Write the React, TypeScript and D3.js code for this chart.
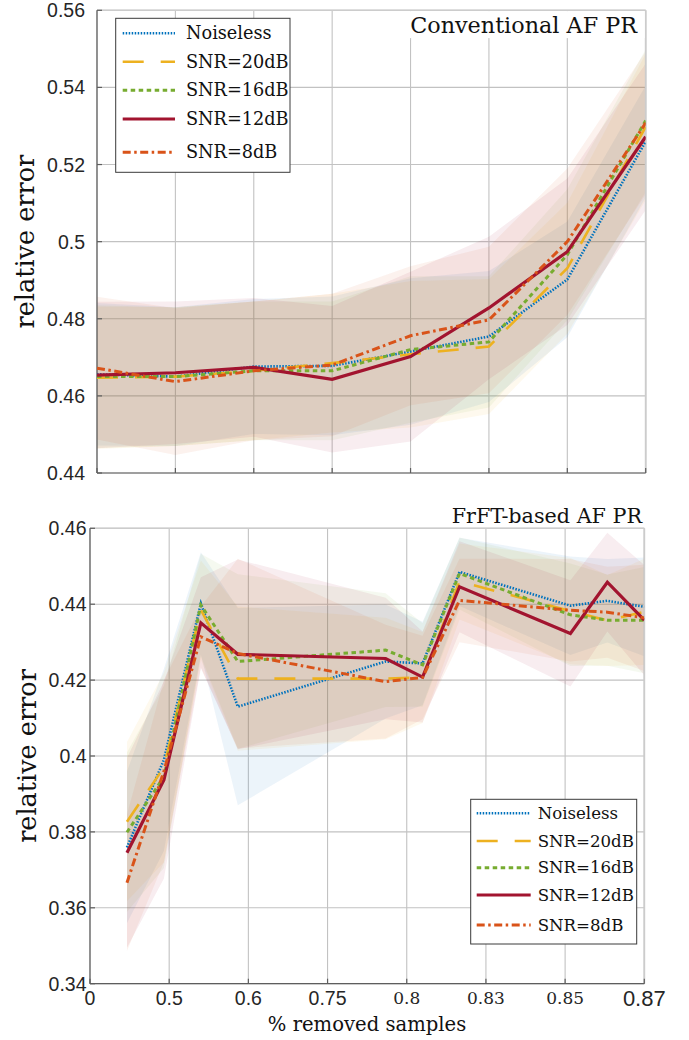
import React from "react";
import * as d3 from "d3";

// ---------- shared ----------
const seriesNames = ["Noiseless", "SNR=20dB", "SNR=16dB", "SNR=12dB", "SNR=8dB"];
const seriesColors = ["#0072BD", "#EDB120", "#77AC30", "#A2142F", "#D95319"];

// ---------- top panel: Conventional AF PR ----------
const topX = [0, 1, 2, 3, 4, 5, 6, 7];
const topNoiseless = [0.4656, 0.465, 0.4676, 0.4678, 0.4715, 0.4754, 0.4902, 0.526];
const top20dB = [0.4647, 0.465, 0.4665, 0.4685, 0.4708, 0.4728, 0.4931, 0.5298];
const top16dB = [0.465, 0.465, 0.4665, 0.4665, 0.472, 0.474, 0.4966, 0.5314];
const top12dB = [0.4654, 0.466, 0.4674, 0.4643, 0.4702, 0.4828, 0.4974, 0.5272];
const top8dB = [0.4672, 0.4637, 0.4665, 0.468, 0.4756, 0.4797, 0.5, 0.5308];
const topNoiselessSpread = [0.0185, 0.018, 0.0175, 0.018, 0.019, 0.017, 0.015, 0.0145];
const top20dBSpread = [0.0185, 0.018, 0.018, 0.018, 0.019, 0.0175, 0.017, 0.019];
const top16dBSpread = [0.0185, 0.018, 0.018, 0.018, 0.019, 0.017, 0.017, 0.0185];
const top12dBSpread = [0.019, 0.0185, 0.018, 0.019, 0.022, 0.0185, 0.019, 0.019];
const top8dBSpread = [0.0185, 0.019, 0.018, 0.0185, 0.018, 0.019, 0.019, 0.0185];
const topYTicks = [0.44, 0.46, 0.48, 0.5, 0.52, 0.54, 0.56];
const topXTicks = [0, 1, 2, 3, 4, 5, 6, 7];

// ---------- bottom panel: FrFT-based AF PR ----------
const bottomX = [1, 2, 3, 4, 8, 9, 10, 13, 14, 15];
const botNoiseless = [0.3759, 0.399, 0.4402, 0.413, 0.4249, 0.4244, 0.4485, 0.4396, 0.4409, 0.4393];
const bot20dB = [0.3827, 0.397, 0.4385, 0.4204, 0.4204, 0.4207, 0.446, 0.4382, 0.4357, 0.438];
const bot16dB = [0.3799, 0.3945, 0.4398, 0.4249, 0.4279, 0.424, 0.4481, 0.4372, 0.4358, 0.4358];
const bot12dB = [0.3745, 0.3937, 0.4351, 0.4268, 0.4257, 0.4208, 0.4446, 0.4323, 0.4458, 0.4358];
const bot8dB = [0.3666, 0.396, 0.4314, 0.427, 0.4196, 0.4207, 0.441, 0.4384, 0.4379, 0.4364];
const botNoiselessSpread = [0.02, 0.024, 0.0135, 0.026, 0.015, 0.011, 0.009, 0.013, 0.011, 0.013];
const bot20dBSpread = [0.021, 0.025, 0.013, 0.019, 0.016, 0.012, 0.01, 0.014, 0.012, 0.014];
const bot16dBSpread = [0.021, 0.024, 0.0135, 0.023, 0.015, 0.011, 0.0095, 0.0135, 0.012, 0.014];
const bot12dBSpread = [0.025, 0.026, 0.012, 0.025, 0.016, 0.012, 0.012, 0.014, 0.013, 0.0145];
const bot8dBSpread = [0.018, 0.024, 0.008, 0.025, 0.015, 0.011, 0.011, 0.0135, 0.012, 0.014];
const bottomYTicks = [0.34, 0.36, 0.38, 0.4, 0.42, 0.44, 0.46];
const bottomXTickLabels = ["0", "0.5", "0.6", "0.75", "0.8", "0.83", "0.85", "0.87"];

// ---------- styles ----------
const lineStyles = [
  { dash: "1.5 1.5", width: 2.6 },
  { dash: "21 17", width: 2.6 },
  { dash: "4.5 3.5", width: 3 },
  { dash: "none", width: 3.2 },
  { dash: "8 3.5 2.5 3.5", width: 3 },
];
const SANS = "'Liberation Sans', Arial, sans-serif";
const SERIF = "'DejaVu Serif', serif";
const serifTickLabels = new Set(["0.8", "0.83", "0.85"]);
const bigTickLabels = new Set(["0.87"]);

const fmt = (v: number) => String(Number(v.toFixed(2)));

type PanelProps = {
  id: string;
  L: number; R: number; T: number; B: number;
  xDomain: [number, number];
  yDomain: [number, number];
  xTickVals: number[];
  yTicks: number[];
  xs: number[];
  means: number[][];
  spreads: number[][];
  yLabelRight: number;
};

function Panel(p: PanelProps) {
  const x = d3.scaleLinear().domain(p.xDomain).range([p.L, p.R]);
  const y = d3.scaleLinear().domain(p.yDomain).range([p.B, p.T]);
  const line = d3.line<number>().x((_, i) => x(p.xs[i])).y((d) => y(d));
  const bandOf = (m: number[], s: number[]) =>
    d3
      .area<number>()
      .x((_, i) => x(p.xs[i]))
      .y0((d, i) => y(d - s[i]))
      .y1((d, i) => y(d + s[i]))(m) || "";
  const gridColor = "#c2c2c2";
  const axisColor = "#5e5e5e";
  return (
    <g>
      <defs>
        <clipPath id={p.id}>
          <rect x={p.L} y={p.T} width={p.R - p.L} height={p.B - p.T} />
        </clipPath>
      </defs>
      {/* grid */}
      {p.xTickVals.map((t, i) => (
        <line key={"gx" + i} x1={x(t)} x2={x(t)} y1={p.T} y2={p.B} stroke={gridColor} strokeWidth={1.1} />
      ))}
      {p.yTicks.map((t, i) => (
        <line key={"gy" + i} x1={p.L} x2={p.R} y1={y(t)} y2={y(t)} stroke={gridColor} strokeWidth={1.1} />
      ))}
      {/* bands */}
      <g clipPath={`url(#${p.id})`}>
        {p.means.map((m, k) => (
          <path key={"b" + k} d={bandOf(m, p.spreads[k])} fill={seriesColors[k]} fillOpacity={0.075} stroke="none" />
        ))}
      </g>
      {/* box: top and right light */}
      <line x1={p.L} x2={p.R} y1={p.T} y2={p.T} stroke="#cccccc" strokeWidth={1.5} />
      <line x1={p.R} x2={p.R} y1={p.T} y2={p.B} stroke="#cccccc" strokeWidth={1.8} />
      {/* axes */}
      <line x1={p.L} x2={p.R} y1={p.B} y2={p.B} stroke={axisColor} strokeWidth={1.2} />
      <line x1={p.L} x2={p.L} y1={p.T} y2={p.B} stroke={axisColor} strokeWidth={1.2} />
      {p.xTickVals.map((t, i) => (
        <line key={"tx" + i} x1={x(t)} x2={x(t)} y1={p.B} y2={p.B - 5} stroke={axisColor} strokeWidth={1.2} />
      ))}
      {p.yTicks.map((t, i) => (
        <g key={"ty" + i}>
          <line x1={p.L} x2={p.L + 5} y1={y(t)} y2={y(t)} stroke={axisColor} strokeWidth={1.2} />
          <text
            x={p.yLabelRight}
            y={y(t)}
            textAnchor="end"
            dominantBaseline="central"
            fontFamily={SANS}
            fontSize={19.5}
            fill="#262626"
          >
            {fmt(t)}
          </text>
        </g>
      ))}
      {/* lines */}
      <g clipPath={`url(#${p.id})`}>
        {p.means.map((m, k) => (
          <path
            key={"l" + k}
            d={line(m) || ""}
            fill="none"
            stroke={seriesColors[k]}
            strokeWidth={lineStyles[k].width}
            strokeDasharray={lineStyles[k].dash}
            strokeLinejoin="miter"
          />
        ))}
      </g>
    </g>
  );
}

function Legend({ x0, y0, w, h, sx0, sx1, tx, rows, fontSize }: any) {
  return (
    <g>
      <rect x={x0} y={y0} width={w} height={h} fill="white" stroke="#3a3a3a" strokeWidth={1} />
      {seriesNames.map((n, k) => (
        <g key={n}>
          <line
            x1={sx0}
            x2={sx1}
            y1={rows[k]}
            y2={rows[k]}
            stroke={seriesColors[k]}
            strokeWidth={lineStyles[k].width}
            strokeDasharray={lineStyles[k].dash}
          />
          <text x={tx} y={rows[k]} dominantBaseline="central" fontFamily={SERIF} fontSize={fontSize} fill="#111">
            {n}
          </text>
        </g>
      ))}
    </g>
  );
}

export default function App() {
  const topL = 97, topR = 645.7, topT = 10.3, topB = 473;
  const botL = 90, botR = 644.3, botT = 528.3, botB = 983.7;
  const botX = d3.scaleLinear().domain([0, 15]).range([botL, botR]);
  const botTickVals = bottomXTickLabels.map((_, i) => (i * 15) / 7);
  return (
    <svg
      width={689}
      height={1040}
      style={{ position: "absolute", left: 0, top: 0, background: "white" }}
      xmlns="http://www.w3.org/2000/svg"
    >
      <rect x={0} y={0} width={689} height={1040} fill="white" />
      <Panel
        id="clipTop"
        L={topL}
        R={topR}
        T={topT}
        B={topB}
        xDomain={[0, 7]}
        yDomain={[0.44, 0.56]}
        xTickVals={topXTicks}
        yTicks={topYTicks}
        xs={topX}
        means={[topNoiseless, top20dB, top16dB, top12dB, top8dB]}
        spreads={[topNoiselessSpread, top20dBSpread, top16dBSpread, top12dBSpread, top8dBSpread]}
        yLabelRight={85}
      />
      {/* top title with white box */}
      <rect x={405} y={topT + 0.8} width={topR - 405 - 1} height={27} fill="white" />
      <text x={637} y={33} textAnchor="end" fontFamily={SERIF} fontSize={22.3} fill="#111">
        Conventional AF PR
      </text>
      <Legend
        x0={115.7}
        y0={18.3}
        w={174.3}
        h={154}
        sx0={122.7}
        sx1={175}
        tx={186}
        rows={[33.3, 61.7, 90.3, 119, 152.3]}
        fontSize={17.7}
      />
      <text transform={`translate(34,${(topT + topB) / 2}) rotate(-90)`} textAnchor="middle" fontFamily={SERIF} fontSize={25.5} fill="#111">
        relative error
      </text>

      <Panel
        id="clipBot"
        L={botL}
        R={botR}
        T={botT}
        B={botB}
        xDomain={[0, 15]}
        yDomain={[0.34, 0.46]}
        xTickVals={botTickVals}
        yTicks={bottomYTicks}
        xs={bottomX}
        means={[botNoiseless, bot20dB, bot16dB, bot12dB, bot8dB]}
        spreads={[botNoiselessSpread, bot20dBSpread, bot16dBSpread, bot12dBSpread, bot8dBSpread]}
        yLabelRight={86.5}
      />
      <text x={642} y={522.7} textAnchor="end" fontFamily={SERIF} fontSize={20.7} fill="#111">
        FrFT-based AF PR
      </text>
      <Legend
        x0={470.7}
        y0={799.3}
        w={166}
        h={144.7}
        sx0={476.7}
        sx1={530.7}
        tx={537.7}
        rows={[813.3, 841, 867.7, 895, 925]}
        fontSize={16.6}
      />
      {bottomXTickLabels.map((lab, i) => {
        const serif = serifTickLabels.has(lab);
        const big = bigTickLabels.has(lab);
        return (
          <text
            key={"xl" + i}
            x={botX(botTickVals[i])}
            y={998}
            textAnchor="middle"
            dominantBaseline="central"
            fontFamily={serif ? SERIF : SANS}
            fontSize={serif ? 17 : big ? 22 : 19.5}
            fill="#262626"
          >
            {lab}
          </text>
        );
      })}
      <text x={367} y={1031} textAnchor="middle" fontFamily={SERIF} fontSize={19.6} fill="#111">
        % removed samples
      </text>
      <text transform={`translate(36,${(botT + botB) / 2}) rotate(-90)`} textAnchor="middle" fontFamily={SERIF} fontSize={25.5} fill="#111">
        relative error
      </text>
    </svg>
  );
}
